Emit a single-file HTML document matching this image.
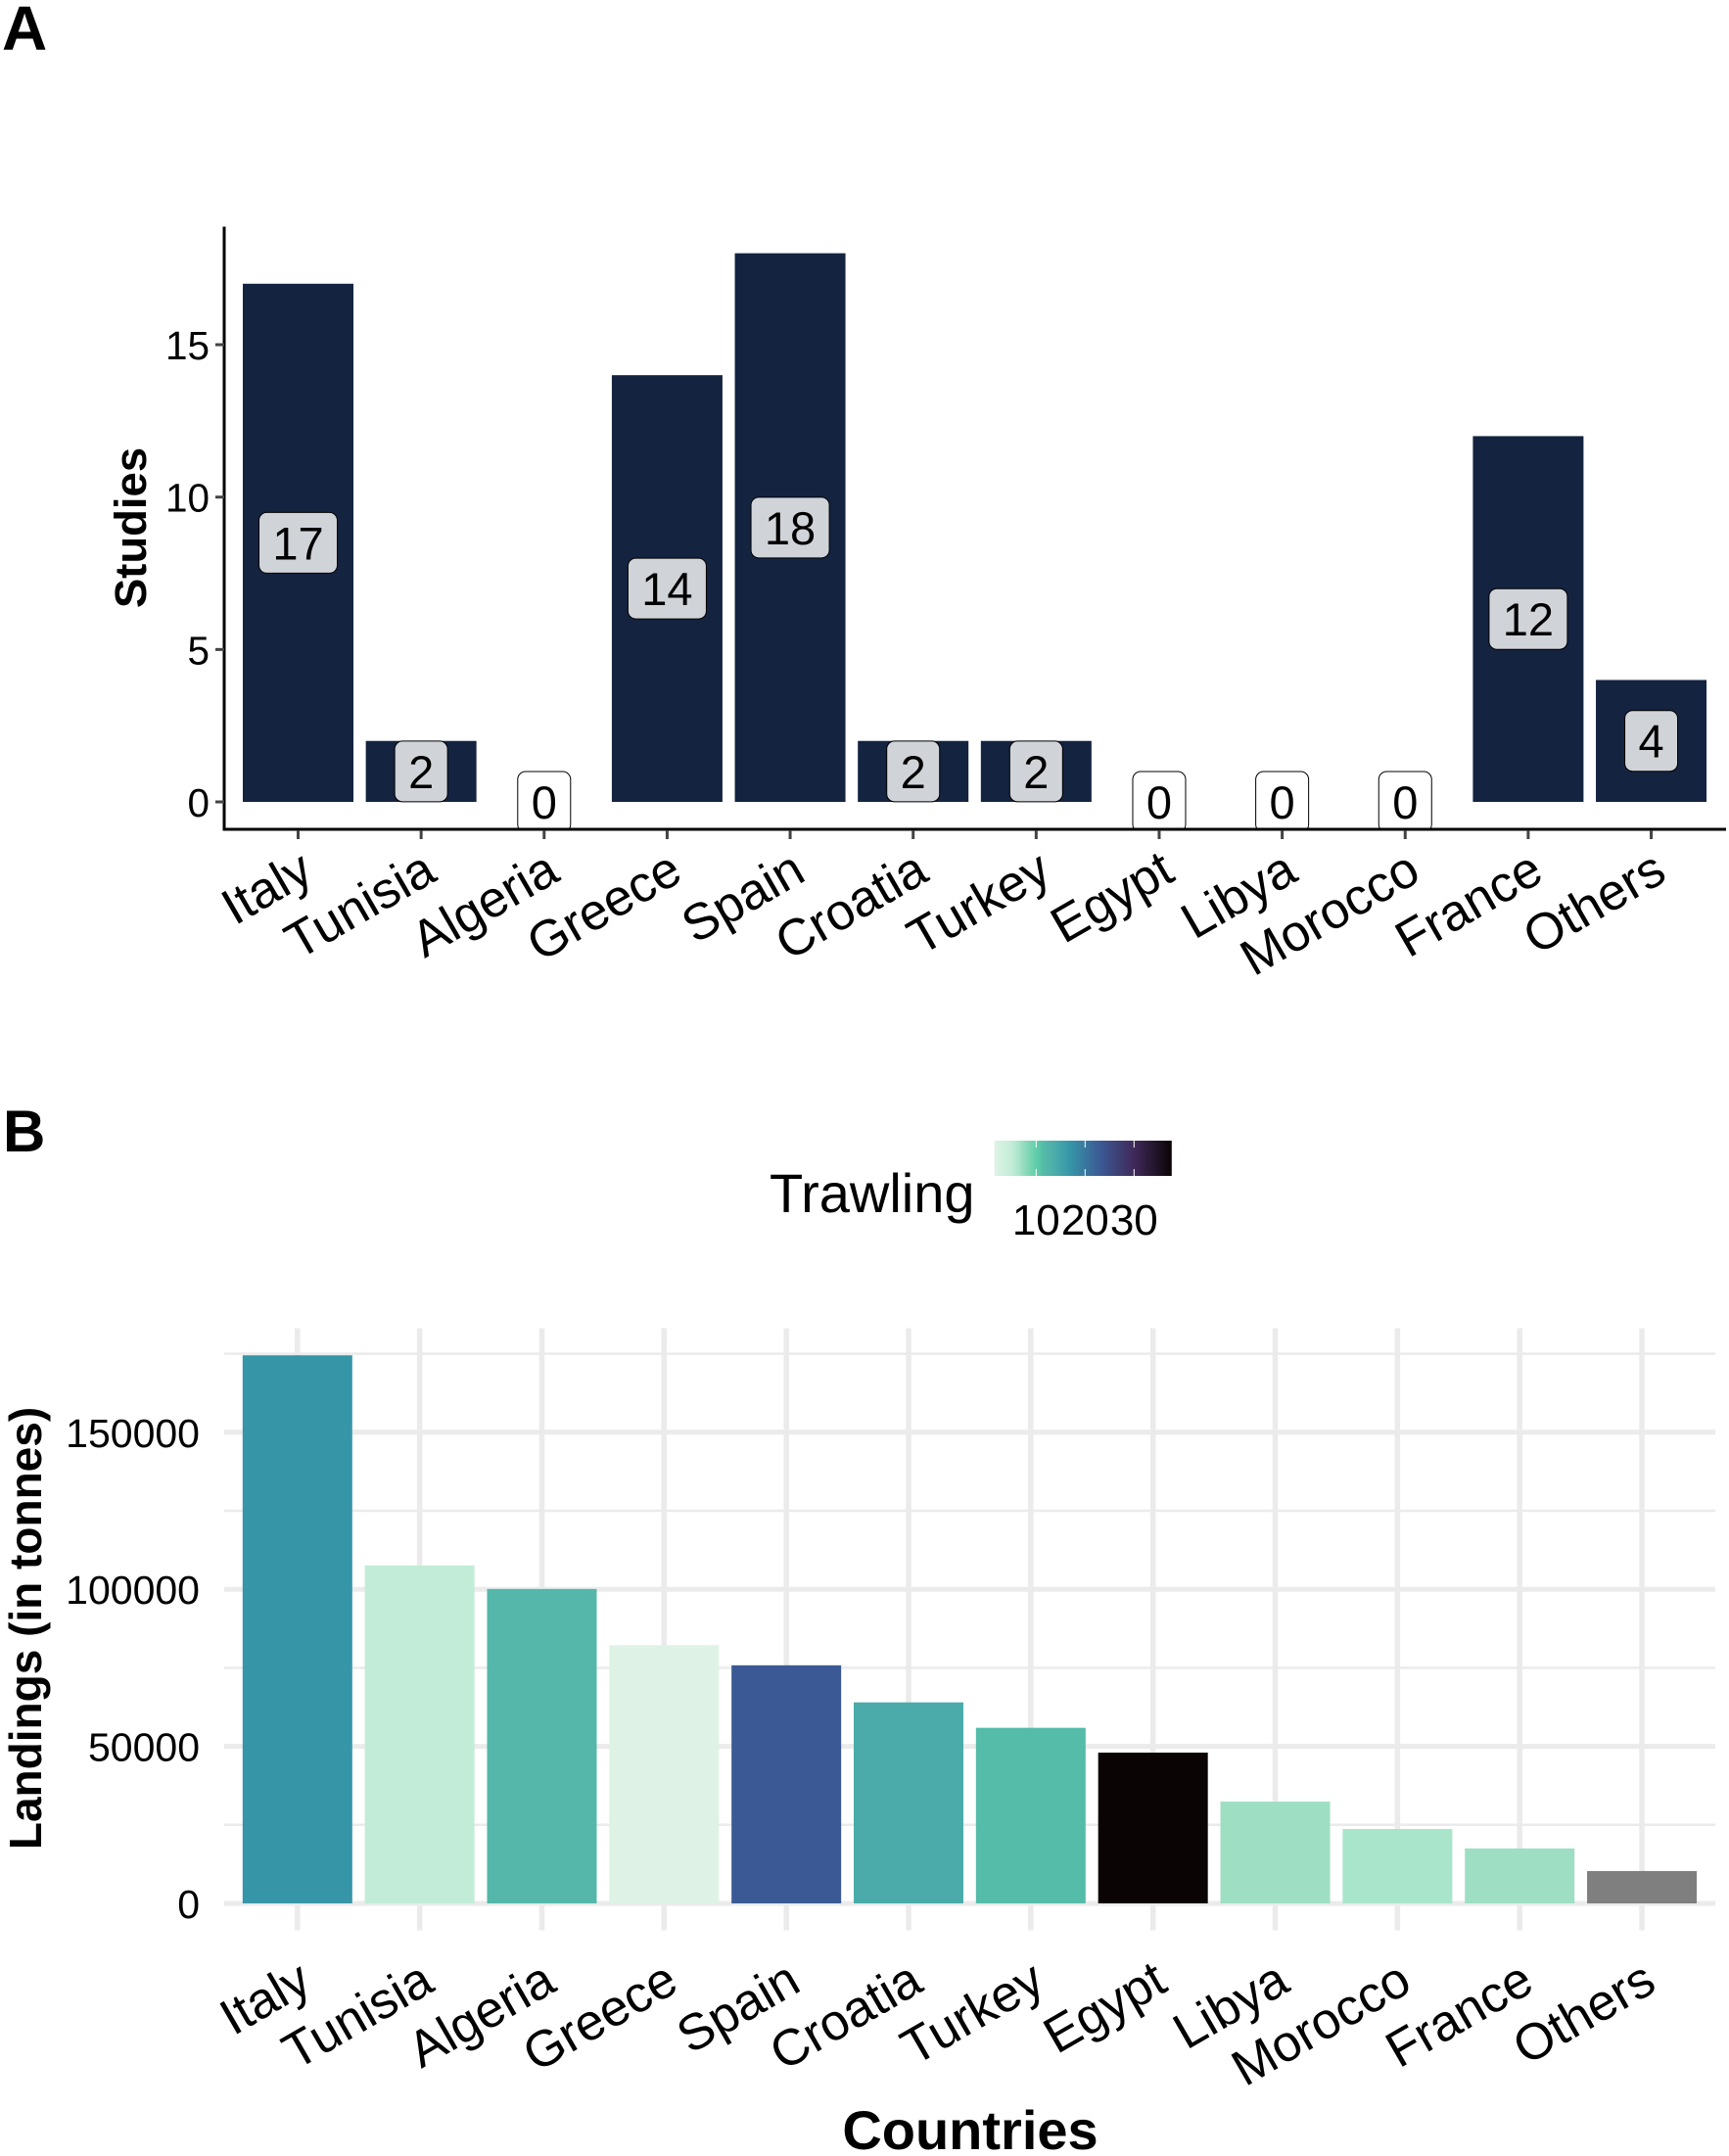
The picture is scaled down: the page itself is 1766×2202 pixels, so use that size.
<!DOCTYPE html>
<html>
<head>
<meta charset="utf-8">
<style>
html,body{margin:0;padding:0;background:#fff;}
svg{display:block;font-family:"Liberation Sans",Arial,sans-serif;}
</style>
</head>
<body>
<svg id="fig" xmlns="http://www.w3.org/2000/svg" width="1766" height="2202" viewBox="0 0 1766 2202"></svg>
<script>
const categoriesA = ["Italy","Tunisia","Algeria","Greece","Spain","Croatia","Turkey","Egypt","Libya","Morocco","France","Others"];
const studies = [17,2,0,14,18,2,2,0,0,0,12,4];
const studyTicks = [0,5,10,15];
const categoriesB = ["Italy","Tunisia","Algeria","Greece","Spain","Croatia","Turkey","Egypt","Libya","Morocco","France","Others"];
const landings = [174500,107600,100100,82200,75800,64000,55900,48000,32400,23700,17500,10300];
const trawling = [17,5,12,1.5,23,14,11.5,37.7,7,6.5,7,null];
const landingTicks = [0,50000,100000,150000];
const landingMinorTicks = [25000,75000,125000,175000];
const legendTicks = [10,20,30];
const colourValues = [1.5,5,6.5,7,10,11.5,12,14,17,23,30,37.7];
const colourStops = ["#def3e5","#c2ecd7","#a9e5cb","#9edfc3","#5fcda9","#54bca8","#54b7a9","#4aabaa","#3795a8","#3b5a95","#40295a","#0b0405"];

const NS = "http://www.w3.org/2000/svg";
const svg = document.getElementById("fig");
function mk(tag, attrs, parent, txt){
  const e = document.createElementNS(NS, tag);
  for (const k in attrs) e.setAttribute(k, attrs[k]);
  if (txt !== undefined) e.textContent = txt;
  (parent || svg).appendChild(e);
  return e;
}
function hexToRgb(h){return [1,3,5].map(i=>parseInt(h.slice(i,i+2),16));}
function colourFor(v){
  if (v === null) return "#7f7f7f";
  if (v <= colourValues[0]) return colourStops[0];
  for (let i=1;i<colourValues.length;i++){
    if (v <= colourValues[i]){
      const t=(v-colourValues[i-1])/(colourValues[i]-colourValues[i-1]);
      const a=hexToRgb(colourStops[i-1]), b=hexToRgb(colourStops[i]);
      return "rgb("+a.map((c,j)=>Math.round(c+(b[j]-c)*t)).join(",")+")";
    }
  }
  return colourStops[colourStops.length-1];
}

/* ---------- Panel A ---------- */
const xA = i => 304.5 + i*125.64;
const yA = v => 819 - v*31.13;
const barWA = 113;
const gA = mk("g",{});


const defs = mk("defs",{});
const clip = mk("clipPath",{id:"clipA"},defs);
mk("rect",{x:229,y:231,width:1534,height:617},clip);

const panelA = mk("text",{x:2,y:51,"font-size":64,"font-weight":"bold",fill:"#000"},gA,"A");



studies.forEach((v,i)=>{
  const r = mk("rect",{x:xA(i)-barWA/2,y:yA(v),width:barWA,height:yA(0)-yA(v),fill:"#14233f"},gA);
  
  
});
const labelsA = mk("g",{"clip-path":"url(#clipA)"},gA);


studies.forEach((v,i)=>{
  const s = String(v);
  const w = s.length>1 ? 80 : 54;
  const cy = yA(v/2);
  const b = mk("rect",{x:xA(i)-w/2,y:cy-31,width:w,height:62,rx:8,ry:8,fill:"#fff","fill-opacity":0.8,stroke:"#000","stroke-width":1},labelsA);
  
  
  const t = mk("text",{x:xA(i),y:cy+17,"font-size":47,"text-anchor":"middle",fill:"#000"},labelsA,s);
  
  
});
const axisYA = mk("line",{x1:229,y1:231.5,x2:229,y2:848.5,stroke:"#000","stroke-width":3},gA);


const axisXA = mk("line",{x1:227.5,y1:847,x2:1763,y2:847,stroke:"#000","stroke-width":3},gA);


studyTicks.forEach(v=>{
  const k = mk("line",{x1:220,y1:yA(v),x2:229,y2:yA(v),stroke:"#444","stroke-width":3},gA);
  
  
  const t = mk("text",{x:214,y:yA(v)+15,"font-size":40.5,"text-anchor":"end",fill:"#000"},gA,String(v));
  
  
});
categoriesA.forEach((c,i)=>{
  const k = mk("line",{x1:xA(i),y1:848,x2:xA(i),y2:857,stroke:"#444","stroke-width":3},gA);
  
  
  const ex = xA(i)+18, ey = 898;
  const t = mk("text",{x:ex,y:ey,"font-size":52,"text-anchor":"end",fill:"#000",transform:"rotate(-30 "+ex+" "+ey+")"},gA,c);
  
  
});
const titleA = mk("text",{x:149,y:539,"font-size":45.5,"font-weight":"bold","text-anchor":"middle",fill:"#000",transform:"rotate(-90 149 539)"},gA,"Studies");



/* ---------- Panel B ---------- */
const xB = i => 303.8 + i*124.84;
const yB = v => 1944 - v*0.003208;
const barWB = 112;
const gB = mk("g",{});



const panelB = mk("text",{x:3,y:1176,"font-size":60,"font-weight":"bold",fill:"#000"},gB,"B");



landingMinorTicks.forEach(v=>{
  const l = mk("line",{x1:229,y1:yB(v),x2:1752,y2:yB(v),stroke:"#ebebeb","stroke-width":2.5},gB);
  
  
});
landingTicks.forEach(v=>{
  const l = mk("line",{x1:229,y1:yB(v),x2:1752,y2:yB(v),stroke:"#ebebeb","stroke-width":5},gB);
  
  
});
categoriesB.forEach((c,i)=>{
  const l = mk("line",{x1:xB(i),y1:1356.5,x2:xB(i),y2:1971.5,stroke:"#ebebeb","stroke-width":5.5},gB);
  
  
});
landings.forEach((v,i)=>{
  const r = mk("rect",{x:xB(i)-barWB/2,y:yB(v),width:barWB,height:yB(0)-yB(v),fill:colourFor(trawling[i])},gB);
  
  
});
landingTicks.forEach(v=>{
  const t = mk("text",{x:204,y:yB(v)+15,"font-size":41,"text-anchor":"end",fill:"#000"},gB,String(v));
  
  
});
categoriesB.forEach((c,i)=>{
  const ex = xB(i)+17, ey = 2032;
  const t = mk("text",{x:ex,y:ey,"font-size":52,"text-anchor":"end",fill:"#000",transform:"rotate(-30 "+ex+" "+ey+")"},gB,c);
  
  
});
const titleBY = mk("text",{x:42,y:1663,"font-size":46,"font-weight":"bold","text-anchor":"middle",fill:"#000",transform:"rotate(-90 42 1663)"},gB,"Landings (in tonnes)");


const titleBX = mk("text",{x:991,y:2195,"font-size":56,"font-weight":"bold","text-anchor":"middle",fill:"#000"},gB,"Countries");



/* ---------- Legend ---------- */
const legendX = v => 1058.3 + (v-10)*5;
const grad = mk("linearGradient",{id:"mako",x1:0,x2:1,y1:0,y2:0},defs);
const vMin = colourValues[0], vMax = colourValues[colourValues.length-1];
colourValues.forEach((v,i)=>{
  mk("stop",{offset:(v-vMin)/(vMax-vMin),"stop-color":colourStops[i]},grad);
});
const legend = mk("g",{},gB);


const legTitle = mk("text",{x:786,y:1238,"font-size":56,fill:"#000"},legend,"Trawling");


const legBar = mk("rect",{x:legendX(vMin),y:1165,width:legendX(vMax)-legendX(vMin),height:36,fill:"url(#mako)"},legend);


legendTicks.forEach(v=>{
  const a = mk("line",{x1:legendX(v),y1:1165,x2:legendX(v),y2:1172,stroke:"#fff","stroke-width":1},legend);
  
  
  const b = mk("line",{x1:legendX(v),y1:1194,x2:legendX(v),y2:1201,stroke:"#fff","stroke-width":1},legend);
  
  
  const t = mk("text",{x:legendX(v),y:1261,"font-size":44,"text-anchor":"middle",fill:"#000"},legend,String(v));
  
  
});
</script>
</body>
</html>
